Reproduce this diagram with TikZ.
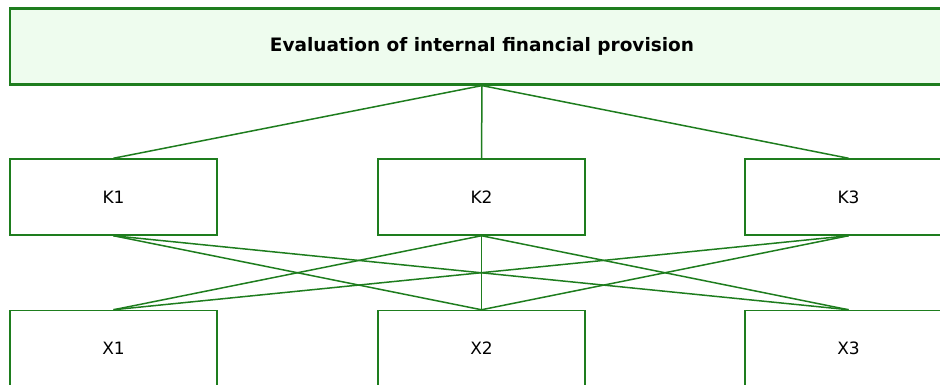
\documentclass[tikz,border=0pt]{standalone}
\usepackage{fontspec}
\setmainfont{DejaVu Sans}
\definecolor{lg}{RGB}{30,125,30}
\definecolor{pg}{RGB}{238,252,238}
\begin{document}
\begin{tikzpicture}[x=1pt,y=-1pt,
  box/.style={draw=lg,line width=1.5pt,fill=white,minimum width=207pt,minimum height=76pt,inner sep=0pt,font=\fontsize{17}{20}\selectfont},
  topbox/.style={draw=lg,line width=2.2pt,fill=pg,minimum width=944pt,minimum height=76pt,inner sep=0pt,font=\bfseries\fontsize{18.5}{22}\selectfont},
  link/.style={draw=lg,line width=1.5pt}]
\useasboundingbox (0,0) rectangle (940,385);
\node[topbox] (T) at (482,46.5) {Evaluation of internal financial provision};
\node[box] (K1) at (113.5,197) {K1};
\node[box] (K2) at (481.5,197) {K2};
\node[box] (K3) at (848.5,197) {K3};
\node[box] (X1) at (113.5,348.5) {X1};
\node[box] (X2) at (481.5,348.5) {X2};
\node[box] (X3) at (848.5,348.5) {X3};
\foreach \k in {K1,K2,K3}{\draw[link] (T.south) -- (\k.north);}
\draw[link] (K1.south) -- (X2.north);
\draw[link] (K1.south) -- (X3.north);
\draw[link] (K2.south) -- (X1.north);
\draw[link] (K2.south) -- (X2.north);
\draw[link] (K2.south) -- (X3.north);
\draw[link] (K3.south) -- (X1.north);
\draw[link] (K3.south) -- (X2.north);
\end{tikzpicture}
\end{document}
